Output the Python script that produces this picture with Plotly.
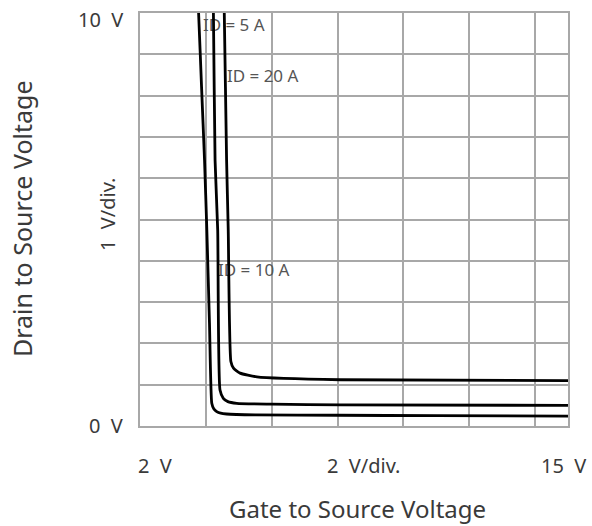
import plotly.graph_objects as go

# ---- data ----
vgs_5a = [3.74, 3.78, 3.87, 3.96, 4.03, 4.11, 4.18, 4.24, 4.33, 4.45, 4.63, 5.5, 8.0, 11.0, 15.0]
vds_5a = [10.6, 10.0, 8.2, 6.44, 4.75, 2.5, 0.55, 0.42, 0.35, 0.31, 0.29, 0.27, 0.26, 0.25, 0.24]

vgs_10a = [4.21, 4.23, 4.28, 4.36, 4.43, 4.53, 4.67, 4.94, 6.0, 8.08, 15.0]
vds_10a = [10.6, 10.0, 6.44, 4.75, 0.87, 0.67, 0.59, 0.55, 0.53, 0.51, 0.50]

vgs_20a = [4.54, 4.56, 4.63, 4.68, 4.76, 4.84, 5.04, 5.55, 8.08, 15.0]
vds_20a = [10.6, 10.0, 6.44, 4.75, 1.56, 1.40, 1.28, 1.19, 1.12, 1.10]

label_text = ["ID = 5 A", "ID = 20 A", "ID = 10 A"]
label_x = [3.91, 4.64, 4.37]
label_y = [9.67, 8.43, 3.74]

x_range = [2, 15]
y_range = [0, 10]
x_step = 2
y_step = 1

FONT = "Noto Sans"
TXT = "#3a3a3a"
GRID = "#a8a8a8"

fig = go.Figure()

# labels first so the curves are drawn over them
fig.add_trace(go.Scatter(
    x=label_x, y=label_y, mode="text", text=label_text,
    textposition="middle right",
    textfont=dict(family=FONT, size=17, color="#555555"),
    hoverinfo="skip", showlegend=False, cliponaxis=False,
))

for xs, ys, nm in [(vgs_5a, vds_5a, "ID = 5 A"),
                   (vgs_10a, vds_10a, "ID = 10 A"),
                   (vgs_20a, vds_20a, "ID = 20 A")]:
    fig.add_trace(go.Scatter(
        x=xs, y=ys, mode="lines", name=nm,
        line=dict(color="black", width=2.8, shape="spline", smoothing=0.5),
        showlegend=False,
    ))

fig.update_layout(
    width=592, height=526,
    margin=dict(l=140, r=24, t=13, b=100),
    paper_bgcolor="white", plot_bgcolor="white",
    font=dict(family=FONT, color=TXT),
)

fig.update_xaxes(
    range=x_range, tick0=x_range[0], dtick=x_step,
    showgrid=True, gridcolor=GRID, gridwidth=1.5,
    showticklabels=False, ticks="", zeroline=False,
    showline=True, mirror=True, linecolor=GRID, linewidth=1.5,
)
fig.update_yaxes(
    range=y_range, tick0=y_range[0], dtick=y_step,
    showgrid=True, gridcolor=GRID, gridwidth=1.5,
    showticklabels=False, ticks="", zeroline=False,
    showline=True, mirror=True, linecolor=GRID, linewidth=1.5,
)

W = 428.0
H = 413.0
def px(xp):
    return (xp - 140) / W
def py(yp):
    return (426 - yp) / H

ann = [
    dict(text="10  V", x=px(125), y=py(19), xanchor="right", yanchor="middle", size=20),
    dict(text="0  V", x=px(125), y=py(425), xanchor="right", yanchor="middle", size=20),
    dict(text="2  V", x=px(155), y=py(465), xanchor="center", yanchor="middle", size=20),
    dict(text="2  V/div.", x=px(363), y=py(465), xanchor="center", yanchor="middle", size=20),
    dict(text="15  V", x=px(563), y=py(465), xanchor="center", yanchor="middle", size=20),
    dict(text="Gate to Source Voltage", x=px(357), y=py(508), xanchor="center", yanchor="middle", size=24),
]
for a in ann:
    fig.add_annotation(text=a["text"], xref="paper", yref="paper", x=a["x"], y=a["y"],
                       xanchor=a["xanchor"], yanchor=a["yanchor"], showarrow=False,
                       font=dict(family=FONT, size=a["size"], color=TXT))

fig.add_annotation(text="Drain to Source Voltage", xref="paper", yref="paper",
                   x=px(22), y=py(219), textangle=-90, showarrow=False,
                   xanchor="center", yanchor="middle",
                   font=dict(family=FONT, size=25, color=TXT))
fig.add_annotation(text="1  V/div.", xref="paper", yref="paper",
                   x=px(107), y=py(215), textangle=-90, showarrow=False,
                   xanchor="center", yanchor="middle",
                   font=dict(family=FONT, size=20, color=TXT))

fig.write_html("out.html")
